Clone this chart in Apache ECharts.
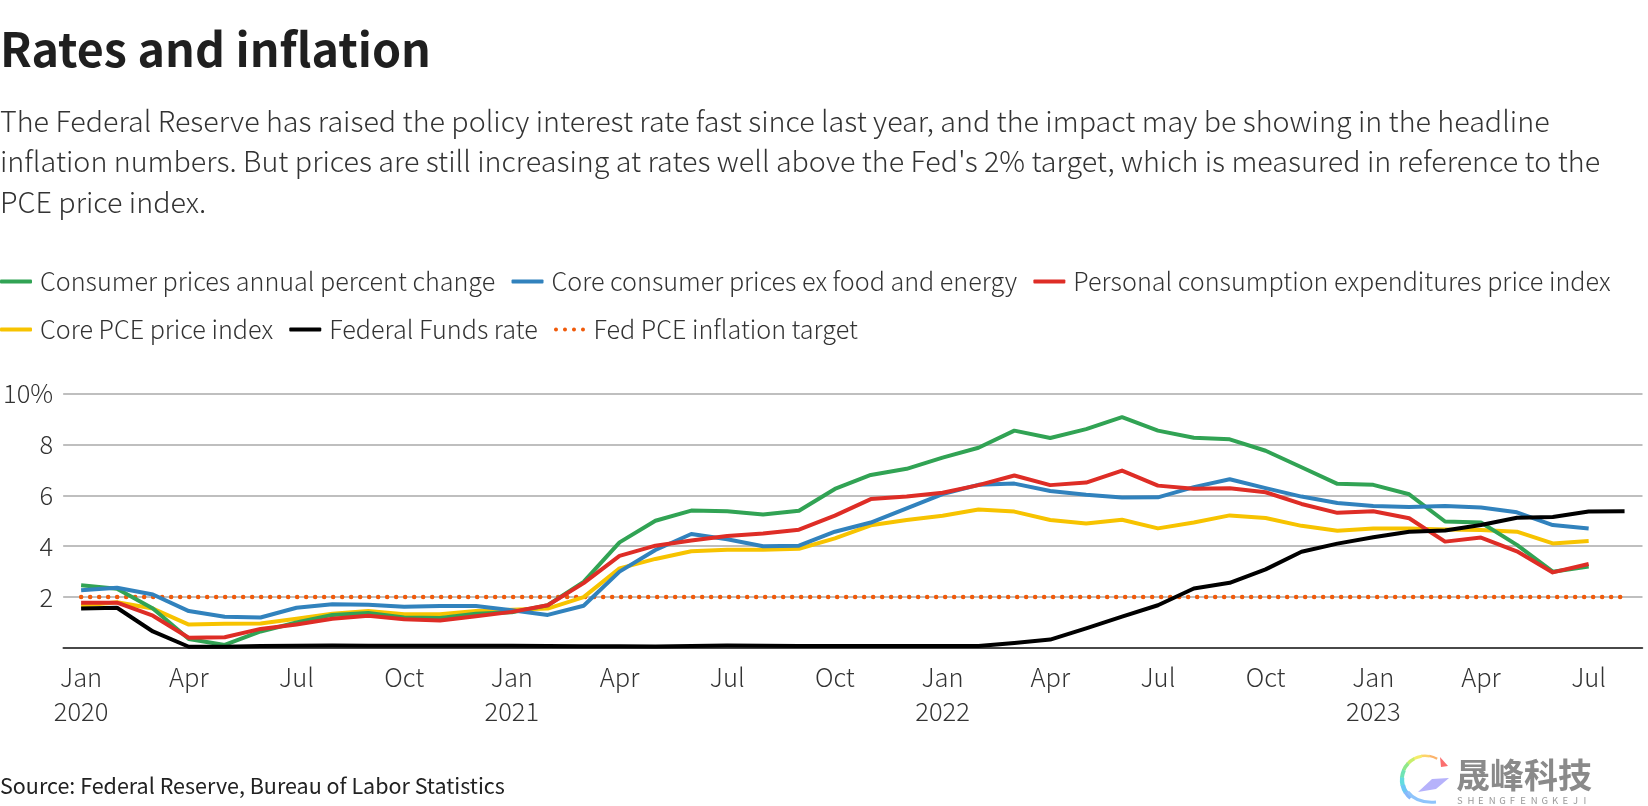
<!DOCTYPE html>
<html><head><meta charset="utf-8">
<style>html,body{margin:0;padding:0;background:#fff}#c{width:1648px;height:806px}</style>
<script src="https://cdn.jsdelivr.net/npm/echarts@6/dist/echarts.min.js"></script></head>
<body><div id="c"></div>
<script>
const titleText = 'Rates and inflation';
const subtitleLines = [
 "The Federal Reserve has raised the policy interest rate fast since last year, and the impact may be showing in the headline",
 "inflation numbers. But prices are still increasing at rates well above the Fed's 2% target, which is measured in reference to the",
 "PCE price index."];
const sourceText = 'Source: Federal Reserve, Bureau of Labor Statistics';
const months = ['Jan','Feb','Mar','Apr','May','Jun','Jul','Aug','Sep','Oct','Nov','Dec'];
const categories = [];
for (let y = 2020; y <= 2023; y++) for (let m = 0; m < 12; m++) if (y < 2023 || m < 8) categories.push(months[m] + ' ' + y);
const cpi = [2.47,2.33,1.55,0.35,0.12,0.65,1.0,1.3,1.38,1.2,1.18,1.35,1.4,1.68,2.6,4.15,5.0,5.4,5.37,5.25,5.39,6.25,6.8,7.04,7.48,7.87,8.54,8.25,8.6,9.07,8.54,8.26,8.2,7.75,7.1,6.45,6.41,6.04,4.97,4.93,4.05,3.0,3.2];
const coreCpi = [2.27,2.37,2.1,1.45,1.23,1.2,1.58,1.72,1.7,1.62,1.65,1.65,1.48,1.3,1.66,3.0,3.85,4.48,4.27,4.0,4.02,4.57,4.93,5.49,6.05,6.41,6.46,6.17,6.02,5.91,5.92,6.32,6.63,6.28,5.95,5.7,5.58,5.54,5.58,5.52,5.33,4.83,4.7];
const pce = [1.78,1.78,1.27,0.4,0.42,0.75,0.92,1.15,1.27,1.13,1.08,1.25,1.42,1.68,2.55,3.62,4.02,4.22,4.4,4.5,4.65,5.2,5.85,5.95,6.1,6.4,6.78,6.4,6.5,6.97,6.38,6.26,6.28,6.12,5.66,5.31,5.37,5.1,4.18,4.34,3.8,2.97,3.3];
const corePce = [1.66,1.8,1.55,0.92,0.95,0.96,1.15,1.35,1.45,1.33,1.33,1.45,1.5,1.55,2.0,3.13,3.5,3.8,3.86,3.86,3.9,4.31,4.82,5.03,5.2,5.44,5.36,5.03,4.89,5.04,4.7,4.93,5.21,5.11,4.8,4.61,4.7,4.7,4.66,4.64,4.57,4.11,4.2];
const fedFunds = [1.55,1.58,0.65,0.05,0.05,0.08,0.09,0.1,0.09,0.09,0.09,0.09,0.09,0.08,0.07,0.07,0.06,0.08,0.1,0.09,0.08,0.08,0.08,0.08,0.08,0.08,0.2,0.33,0.77,1.23,1.68,2.34,2.56,3.09,3.78,4.1,4.35,4.57,4.62,4.83,5.12,5.15,5.36,5.37];
const target = categories.map(() => 2);
const yTicks = {2:'2',4:'4',6:'6',8:'8',10:'10%'};
const logoColors = ['#fbb36b','#fdd36a','#f4ec6a','#c8ee6c','#8fe88a','#6fe3b5','#63dcdf','#6cc8f4','#86b8fb'];
const logoLetters = 'SHENGFENGKEJI'.split('');

const FONT = '"Noto Sans CJK SC","Noto Sans",sans-serif';
const INK = '#333333';
const line = (name, data, color, z) => ({name, data, type:'line', symbol:'none', z, silent:true, animation:false,
  lineStyle:{color, width:4, cap:'butt', join:'round'}, itemStyle:{color}});
const legendText = {fontFamily:FONT, fontWeight:300, fontSize:25.15, color:INK, padding:[0,0,0,3]};
const dots = 'path://M2 0a2 2 0 1 0 0 4a2 2 0 1 0 0-4zM11 0a2 2 0 1 0 0 4a2 2 0 1 0 0-4zM20 0a2 2 0 1 0 0 4a2 2 0 1 0 0-4zM29 0a2 2 0 1 0 0 4a2 2 0 1 0 0-4z';
const swatch = (name) => ({name, icon:'roundRect'});
const legendBase = {show:true, left:0, width:1648, padding:0, itemWidth:32, itemHeight:4, itemGap:16.3, textStyle:legendText, selectedMode:false, orient:'horizontal'};

// logo swirl: short coloured arc pieces around one centre
const logoCx = 1425, logoCy = 780;
const logoArcs = logoColors.map((c,i)=>{
  const a0 = -1.05 - i*0.33, a1 = a0 - 0.35;
  return {type:'arc', silent:true, shape:{cx:logoCx, cy:logoCy, r:24.5 - i*0.25, startAngle:a1, endAngle:a0, clockwise:true},
    style:{stroke:c, lineWidth:2.2 + i*0.35, fill:null, lineCap:'butt'}};
});

const chart = echarts.init(document.getElementById('c'), null, {renderer:'canvas'});
chart.setOption({
  animation:false,
  backgroundColor:'#fff',
  title:[
    {text:titleText, left:0, top:26, textStyle:{fontFamily:FONT, fontWeight:700, fontSize:46.6, color:'#1f1f1f'}, padding:0}
  ],
  legend:[
    Object.assign({}, legendBase, {top:269, data:['Consumer prices annual percent change','Core consumer prices ex food and energy','Personal consumption expenditures price index'].map(swatch)}),
    Object.assign({}, legendBase, {top:317, data:[swatch('Core PCE price index'),swatch('Federal Funds rate'),{name:'Fed PCE inflation target', icon:dots}]})
  ],
  grid:{left:59.5, top:393.5, width:1583, height:254.5, containLabel:false},
  xAxis:{type:'category', data:categories, boundaryGap:true,
    axisLine:{show:true, lineStyle:{color:'#222', width:1.5}}, axisTick:{show:false},
    axisLabel:{interval:(i)=>i%3===0 && i<43, margin:12, fontFamily:FONT, fontWeight:300, fontSize:25.5, color:INK, lineHeight:34,
      formatter:(v)=>{const [m,y]=v.split(' '); return m==='Jan'? m+'\n'+y : m;}},
    splitLine:{show:false}},
  yAxis:{type:'value', min:0, max:10, interval:2,
    axisLine:{show:false}, axisTick:{show:false},
    axisLabel:{margin:10, fontFamily:FONT, fontWeight:300, fontSize:25.5, color:INK, formatter:(v)=>yTicks[v]||''},
    splitLine:{lineStyle:{color:'#bfbfbf', width:2}}},
  series:[
    line('Consumer prices annual percent change', cpi, '#31a354', 3),
    line('Core consumer prices ex food and energy', coreCpi, '#3182bd', 4),
    line('Personal consumption expenditures price index', pce, '#de2d26', 6),
    line('Core PCE price index', corePce, '#f7c300', 2),
    line('Federal Funds rate', fedFunds, '#000000', 7),
    {name:'Fed PCE inflation target', data:target, type:'line', symbol:'none', z:1, silent:true,
      lineStyle:{color:'#f05a0a', width:4.5, type:[0.1,8.9], cap:'round'}, itemStyle:{color:'#f05a0a'}}
  ],
  graphic:[
    ...subtitleLines.map((t,i)=>({type:'text', left:0, top:107+i*40.2, silent:true,
      style:{text:t, font:'300 28.7px '+FONT, fill:INK}})),
    {type:'text', left:0, top:775, silent:true, style:{text:sourceText, font:'400 21.5px '+FONT, fill:'#222'}},
    {type:'text', left:1456, top:758, silent:true, style:{text:'晟峰科技', font:'700 34px "Noto Sans CJK SC",sans-serif', fill:'#8a8a8a'}},
    ...logoLetters.map((ch,i)=>({type:'text', left:1457+i*10.55, top:796, silent:true, style:{text:ch, font:'400 9.5px '+FONT, fill:'#999999'}})),
    ...logoArcs,
    {type:'bezierCurve', silent:true, shape:{x1:1408,y1:792,cpx1:1414,cpy1:800,cpx2:1424,cpy2:803,x2:1436,y2:802}, style:{stroke:'#8fc4fb', lineWidth:3, fill:null}},
    {type:'polygon', silent:true, shape:{points:[[1440,757],[1448,766],[1441,767]]}, style:{fill:'#fb6f6f'}},
    {type:'polygon', silent:true, shape:{points:[[1432,779],[1449,778],[1436,789],[1418,792]]}, style:{fill:'#b6b2fb'}}
  ]
});
</script></body></html>
